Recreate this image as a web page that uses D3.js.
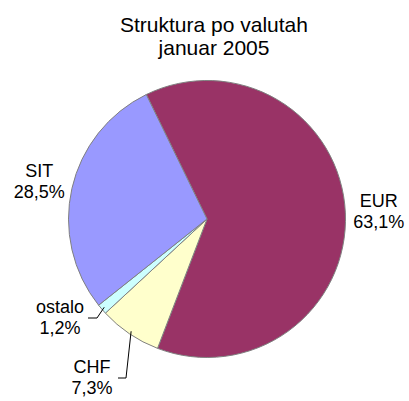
<!DOCTYPE html>
<html>
<head>
<meta charset="utf-8">
<script src="https://cdn.jsdelivr.net/npm/d3@7"></script>
<style>
  html, body { margin: 0; padding: 0; background: #fff; }
  svg { display: block; }
  text { font-family: "Liberation Sans", Arial, sans-serif; fill: #000; }
</style>
</head>
<body>
<svg id="chart" width="409" height="401"></svg>
<script>
// Currency structure, January 2005 (shares in %)
const categories = ["EUR", "CHF", "ostalo", "SIT"];
const shares = [63.1, 7.3, 1.2, 28.5];
const shareLabels = ["63,1%", "7,3%", "1,2%", "28,5%"];
const colors = ["#993366", "#FFFFCC", "#CCFFFF", "#9999FF"];
const titleLines = ["Struktura po valutah", "januar 2005"];

const svg = d3.select("#chart");
const W = 409;

// pie geometry
const cx = 207, cy = 219, R = 138.5;
const startDeg = -26;

const data = categories.map((c, i) => ({ name: c, value: shares[i], label: shareLabels[i], color: colors[i] }));

const pie = d3.pie()
  .value(d => d.value)
  .sort(null)
  .startAngle(startDeg * Math.PI / 180)
  .endAngle(startDeg * Math.PI / 180 + 2 * Math.PI);

const arcs = pie(data);
const arc = d3.arc().innerRadius(0).outerRadius(R);

// title
svg.append("g")
  .selectAll("text")
  .data(titleLines)
  .join("text")
  .attr("x", 214)
  .attr("y", (d, i) => 31.5 + i * 23.5)
  .attr("text-anchor", "middle")
  .attr("font-size", 21)
  .text(d => d);

const g = svg.append("g").attr("transform", `translate(${cx},${cy})`);

g.selectAll("path.slice")
  .data(arcs)
  .join("path")
  .attr("class", "slice")
  .attr("d", arc)
  .attr("fill", d => d.data.color)
  .attr("stroke", "#808080")
  .attr("stroke-width", 1)
  .attr("stroke-linejoin", "round");

// point on a circle of radius r at the middle of a slice
function midPoint(d, r) {
  const a = (d.startAngle + d.endAngle) / 2;
  return [r * Math.sin(a), -r * Math.cos(a)];
}

// label placement: large slices sit on a label ring, small ones get leader lines
const labelRing = 172;
const lineGap = 21;
const placed = {
  "CHF":    { x: 92 - cx, y: 373 - cy, leader: [[118 - cx, 378 - cy], [126 - cx, 378 - cy]] },
  "ostalo": { x: 60 - cx, y: 313 - cy, leader: [[88 - cx, 318 - cy], [97 - cx, 318 - cy]] }
};

const labels = g.append("g");
arcs.forEach(d => {
  const p = placed[d.data.name];
  let x, y;
  if (p) {
    x = p.x; y = p.y;
    const edge = midPoint(d, R - 3);
    labels.append("polyline")
      .attr("points", p.leader.concat([edge]).map(q => q.join(",")).join(" "))
      .attr("fill", "none")
      .attr("stroke", "#000")
      .attr("stroke-width", 1);
  } else {
    const m = midPoint(d, labelRing);
    x = m[0];
    y = m[1] - 4;
  }
  const t = labels.append("text")
    .attr("text-anchor", "middle")
    .attr("font-size", 18);
  t.append("tspan").attr("x", x).attr("y", y).text(d.data.name);
  t.append("tspan").attr("x", x).attr("y", y + lineGap).text(d.data.label);
});
</script>
</body>
</html>
